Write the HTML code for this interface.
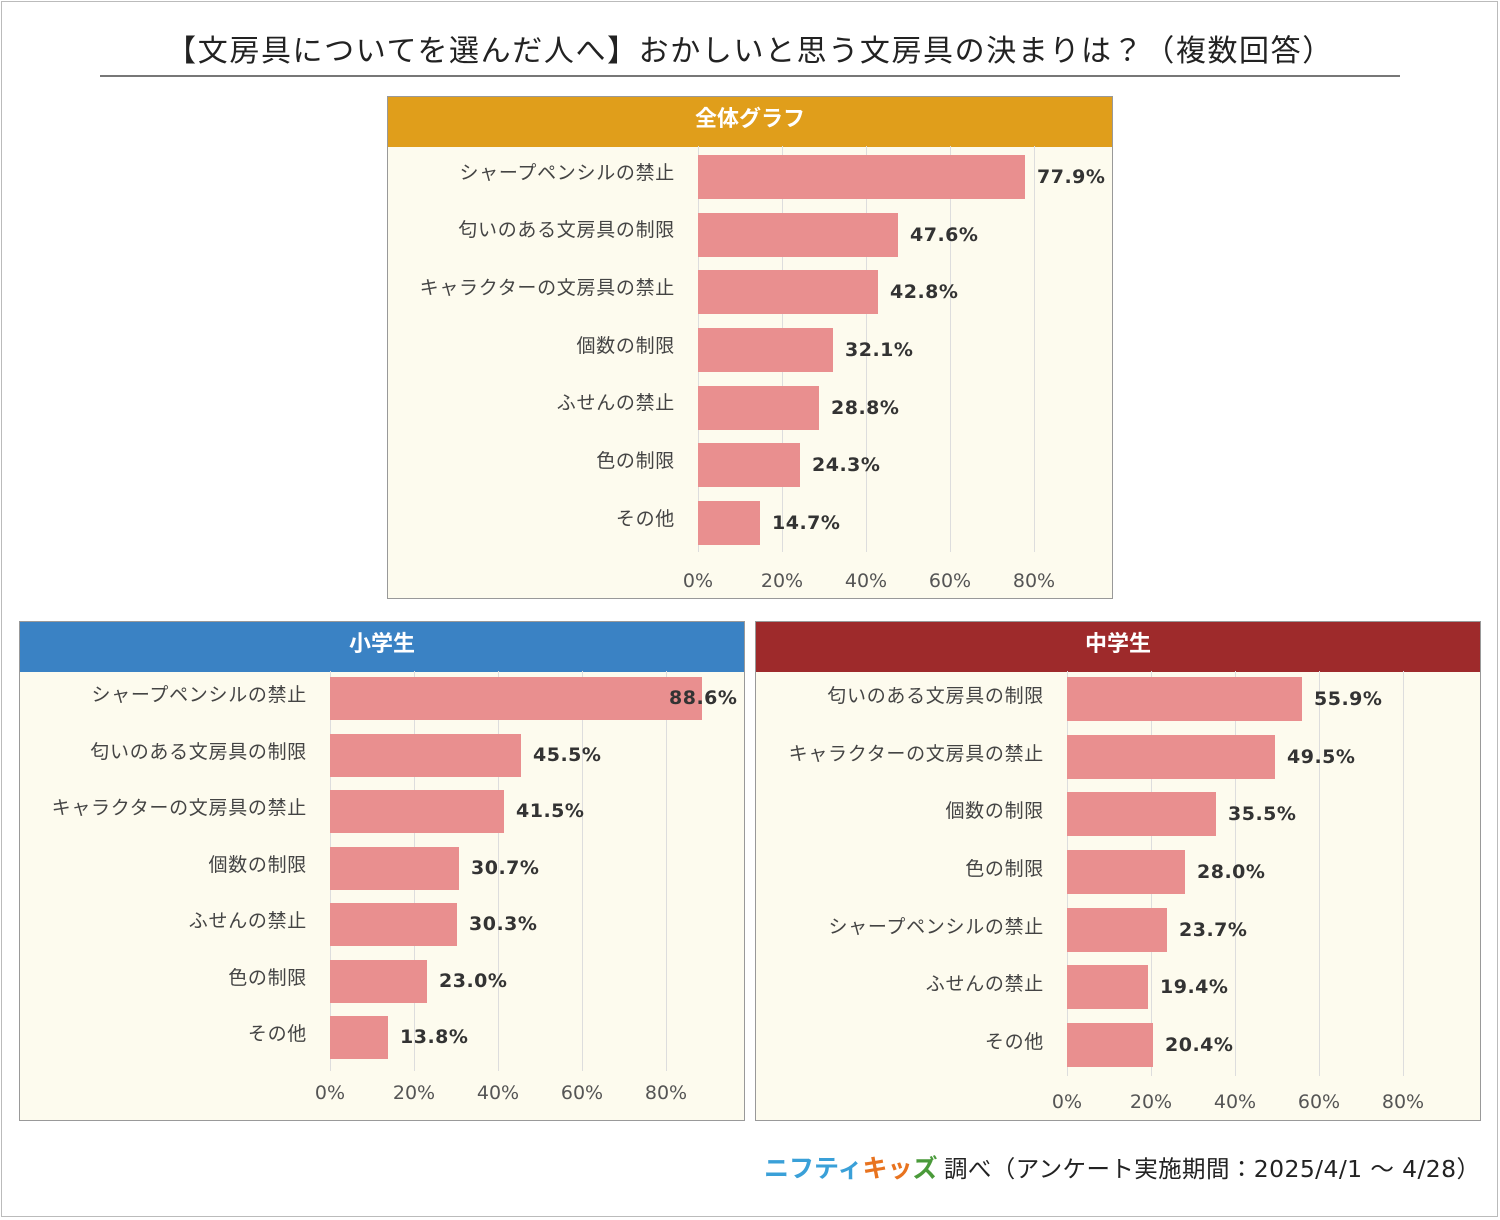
<!DOCTYPE html>
<html><head><meta charset="utf-8"><style>
*{margin:0;padding:0;box-sizing:border-box}
body{width:1500px;height:1220px;background:#fff;position:relative;font-family:"Liberation Sans","Noto Sans CJK JP",sans-serif;color:#333;overflow:hidden}
.abs{position:absolute}
.frame{position:absolute;left:1px;top:1px;width:1497px;height:1216px;border:1px solid #bbb}
.title{position:absolute;left:0;width:1500px;top:26px;text-align:center;font-size:30px;letter-spacing:1.6px;color:#222;font-family:"DejaVu Sans","Noto Sans CJK JP",sans-serif}
.rule{position:absolute;left:100px;width:1300px;top:75px;height:2px;background:#777}
.box{position:absolute;border:1px solid #999;background:#fdfbee}
.hd{position:absolute;left:0;top:0;width:100%;height:50px;color:#fff;font-weight:bold;font-size:22px;text-align:center;line-height:44px}
.g{position:absolute;width:1px;background:#ddd}
.bar{position:absolute;background:#e98f8f;height:44px}
.lb{position:absolute;text-align:right;font-size:19px;letter-spacing:0.7px;color:#444;white-space:nowrap;line-height:24px}
.v{position:absolute;font-weight:bold;font-size:19px;color:#333;line-height:24px;white-space:nowrap;font-family:"DejaVu Sans",sans-serif;letter-spacing:0.5px}
.ax{position:absolute;font-size:19px;color:#555;width:70px;text-align:center;margin-left:-35px;line-height:24px;font-family:"DejaVu Sans",sans-serif}
</style></head><body>
<div class="frame"></div>
<div class="title">【文房具についてを選んだ人へ】おかしいと思う文房具の決まりは？（複数回答）</div>
<div class="rule"></div>

<!-- top -->
<div class="box" style="left:387px;top:96px;width:726px;height:503px"><div class="hd" style="background:#e09e1b">全体グラフ</div></div>
<div class="g" style="left:698px;top:146px;height:406px"></div>
<div class="g" style="left:782px;top:146px;height:406px"></div>
<div class="g" style="left:866px;top:146px;height:406px"></div>
<div class="g" style="left:950px;top:146px;height:406px"></div>
<div class="g" style="left:1034px;top:146px;height:406px"></div>
<div class="lb" style="right:825px;top:162px">シャープペンシルの禁止</div>
<div class="lb" style="right:825px;top:219px">匂いのある文房具の制限</div>
<div class="lb" style="right:825px;top:277px">キャラクターの文房具の禁止</div>
<div class="lb" style="right:825px;top:335px">個数の制限</div>
<div class="lb" style="right:825px;top:392px">ふせんの禁止</div>
<div class="lb" style="right:825px;top:450px">色の制限</div>
<div class="lb" style="right:825px;top:508px">その他</div>
<div class="bar" style="left:698px;top:155px;width:327px"></div>
<div class="bar" style="left:698px;top:213px;width:200px"></div>
<div class="bar" style="left:698px;top:270px;width:180px"></div>
<div class="bar" style="left:698px;top:328px;width:135px"></div>
<div class="bar" style="left:698px;top:386px;width:121px"></div>
<div class="bar" style="left:698px;top:443px;width:102px"></div>
<div class="bar" style="left:698px;top:501px;width:62px"></div>
<div class="v" style="left:1037px;top:165px">77.9%</div>
<div class="v" style="left:910px;top:223px">47.6%</div>
<div class="v" style="left:890px;top:280px">42.8%</div>
<div class="v" style="left:845px;top:338px">32.1%</div>
<div class="v" style="left:831px;top:396px">28.8%</div>
<div class="v" style="left:812px;top:453px">24.3%</div>
<div class="v" style="left:772px;top:511px">14.7%</div>
<div class="ax" style="left:698px;top:569px">0%</div>
<div class="ax" style="left:782px;top:569px">20%</div>
<div class="ax" style="left:866px;top:569px">40%</div>
<div class="ax" style="left:950px;top:569px">60%</div>
<div class="ax" style="left:1034px;top:569px">80%</div>

<!-- left -->
<div class="box" style="left:19px;top:621px;width:726px;height:500px"><div class="hd" style="background:#3a82c4">小学生</div></div>
<div class="g" style="left:330px;top:671px;height:400px"></div>
<div class="g" style="left:414px;top:671px;height:400px"></div>
<div class="g" style="left:498px;top:671px;height:400px"></div>
<div class="g" style="left:582px;top:671px;height:400px"></div>
<div class="g" style="left:666px;top:671px;height:400px"></div>
<div class="lb" style="right:1193px;top:684px">シャープペンシルの禁止</div>
<div class="lb" style="right:1193px;top:741px">匂いのある文房具の制限</div>
<div class="lb" style="right:1193px;top:797px">キャラクターの文房具の禁止</div>
<div class="lb" style="right:1193px;top:854px">個数の制限</div>
<div class="lb" style="right:1193px;top:910px">ふせんの禁止</div>
<div class="lb" style="right:1193px;top:967px">色の制限</div>
<div class="lb" style="right:1193px;top:1023px">その他</div>
<div class="bar" style="left:330px;top:677px;width:372px;height:43px"></div>
<div class="bar" style="left:330px;top:734px;width:191px;height:43px"></div>
<div class="bar" style="left:330px;top:790px;width:174px;height:43px"></div>
<div class="bar" style="left:330px;top:847px;width:129px;height:43px"></div>
<div class="bar" style="left:330px;top:903px;width:127px;height:43px"></div>
<div class="bar" style="left:330px;top:960px;width:97px;height:43px"></div>
<div class="bar" style="left:330px;top:1016px;width:58px;height:43px"></div>
<div class="v" style="left:669px;top:686px">88.6%</div>
<div class="v" style="left:533px;top:743px">45.5%</div>
<div class="v" style="left:516px;top:799px">41.5%</div>
<div class="v" style="left:471px;top:856px">30.7%</div>
<div class="v" style="left:469px;top:912px">30.3%</div>
<div class="v" style="left:439px;top:969px">23.0%</div>
<div class="v" style="left:400px;top:1025px">13.8%</div>
<div class="ax" style="left:330px;top:1081px">0%</div>
<div class="ax" style="left:414px;top:1081px">20%</div>
<div class="ax" style="left:498px;top:1081px">40%</div>
<div class="ax" style="left:582px;top:1081px">60%</div>
<div class="ax" style="left:666px;top:1081px">80%</div>

<!-- right -->
<div class="box" style="left:755px;top:621px;width:726px;height:500px"><div class="hd" style="background:#9e2a2b">中学生</div></div>
<div class="g" style="left:1067px;top:671px;height:405px"></div>
<div class="g" style="left:1151px;top:671px;height:405px"></div>
<div class="g" style="left:1235px;top:671px;height:405px"></div>
<div class="g" style="left:1319px;top:671px;height:405px"></div>
<div class="g" style="left:1403px;top:671px;height:405px"></div>
<div class="lb" style="right:456px;top:685px">匂いのある文房具の制限</div>
<div class="lb" style="right:456px;top:743px">キャラクターの文房具の禁止</div>
<div class="lb" style="right:456px;top:800px">個数の制限</div>
<div class="lb" style="right:456px;top:858px">色の制限</div>
<div class="lb" style="right:456px;top:916px">シャープペンシルの禁止</div>
<div class="lb" style="right:456px;top:973px">ふせんの禁止</div>
<div class="lb" style="right:456px;top:1031px">その他</div>
<div class="bar" style="left:1067px;top:677px;width:235px"></div>
<div class="bar" style="left:1067px;top:735px;width:208px"></div>
<div class="bar" style="left:1067px;top:792px;width:149px"></div>
<div class="bar" style="left:1067px;top:850px;width:118px"></div>
<div class="bar" style="left:1067px;top:908px;width:100px"></div>
<div class="bar" style="left:1067px;top:965px;width:81px"></div>
<div class="bar" style="left:1067px;top:1023px;width:86px"></div>
<div class="v" style="left:1314px;top:687px">55.9%</div>
<div class="v" style="left:1287px;top:745px">49.5%</div>
<div class="v" style="left:1228px;top:802px">35.5%</div>
<div class="v" style="left:1197px;top:860px">28.0%</div>
<div class="v" style="left:1179px;top:918px">23.7%</div>
<div class="v" style="left:1160px;top:975px">19.4%</div>
<div class="v" style="left:1165px;top:1033px">20.4%</div>
<div class="ax" style="left:1067px;top:1090px">0%</div>
<div class="ax" style="left:1151px;top:1090px">20%</div>
<div class="ax" style="left:1235px;top:1090px">40%</div>
<div class="ax" style="left:1319px;top:1090px">60%</div>
<div class="ax" style="left:1403px;top:1090px">80%</div>

<!-- footer -->
<div class="abs" style="left:764px;top:1153px;font-size:25px;font-weight:bold;white-space:nowrap;line-height:32px;letter-spacing:0px"><span style="color:#3aa0d8">ニフティ</span><span style="color:#e8731f">キッ</span><span style="color:#4a9a3a">ズ</span></div>
<div class="abs" style="left:944px;top:1153px;font-size:23.5px;color:#222;white-space:nowrap;line-height:32px;font-family:'DejaVu Sans','Noto Sans CJK JP',sans-serif;letter-spacing:0.4px">調べ（アンケート実施期間：2025/4/1 ～ 4/28）</div>
</body></html>
